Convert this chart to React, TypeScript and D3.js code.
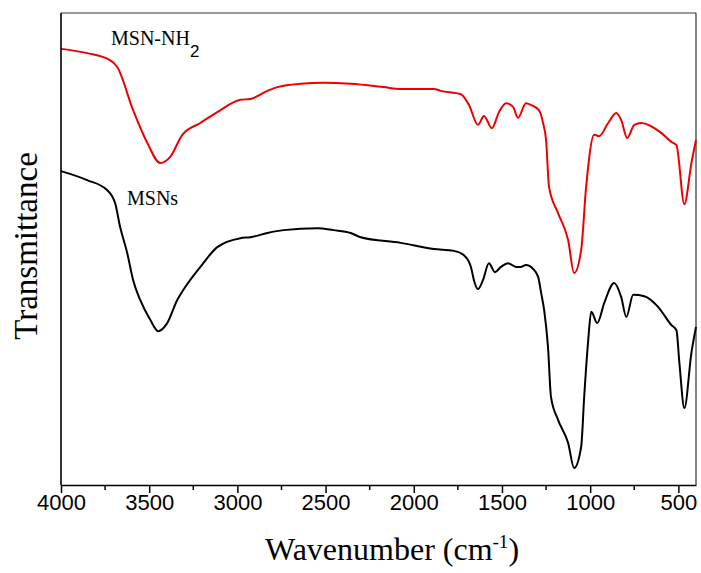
import React, { useEffect, useRef } from "react";
import * as d3 from "d3";

// Wavenumber (cm^-1) and transmittance (arbitrary units)
const nh2Wavenumber = [4000, 3852, 3722, 3682, 3591, 3511, 3437, 3381, 3312, 3210, 3114, 2983, 2926, 2830, 2773, 2642, 2511, 2358, 2170, 2074, 1886, 1847, 1733, 1687, 1636, 1602, 1557, 1517, 1477, 1437, 1409, 1364, 1324, 1290, 1267, 1250, 1233, 1182, 1125, 1091, 1051, 1023, 977, 949, 898, 852, 824, 790, 750, 710, 597, 540, 511, 466, 426, 400];
const nh2Transmittance = [92.4, 91.5, 90.0, 88.6, 79.4, 72.5, 68.2, 69.5, 74.2, 76.7, 79.0, 81.6, 81.8, 83.5, 84.3, 85.0, 85.2, 85.0, 84.3, 83.9, 83.9, 83.5, 82.8, 80.5, 76.3, 78.2, 75.6, 79.0, 80.9, 80.1, 77.8, 80.9, 80.3, 79.4, 76.7, 73.1, 63.1, 57.6, 51.9, 44.9, 49.8, 63.1, 74.2, 73.9, 76.7, 78.8, 77.3, 73.5, 76.3, 76.7, 74.6, 72.7, 72.0, 59.5, 68.2, 73.1];

const msnWavenumber = [4000, 3852, 3739, 3693, 3665, 3625, 3591, 3551, 3494, 3449, 3398, 3341, 3307, 3210, 3114, 2983, 2926, 2830, 2739, 2545, 2455, 2358, 2301, 2074, 1886, 1773, 1716, 1676, 1659, 1636, 1608, 1574, 1540, 1506, 1466, 1420, 1392, 1364, 1324, 1295, 1278, 1261, 1239, 1222, 1182, 1125, 1091, 1051, 1034, 1011, 994, 960, 920, 864, 824, 795, 756, 693, 614, 540, 511, 494, 466, 426, 400];
const msnTransmittance = [66.5, 64.6, 62.5, 59.7, 54.7, 49.2, 43.4, 39.2, 35.0, 32.6, 34.3, 39.2, 41.3, 46.2, 50.4, 52.3, 52.5, 53.4, 54.0, 54.4, 54.0, 53.4, 52.5, 51.3, 50.0, 49.6, 48.7, 46.2, 43.4, 41.5, 43.4, 47.0, 45.1, 46.2, 47.0, 46.2, 46.2, 46.6, 45.8, 44.1, 40.7, 37.1, 29.2, 18.6, 13.8, 8.9, 3.6, 8.1, 18.6, 30.7, 36.7, 34.3, 38.6, 42.8, 39.8, 35.6, 40.3, 40.0, 37.7, 33.9, 32.8, 25.8, 16.3, 28.0, 33.5];

const xTicks = [4000, 3500, 3000, 2500, 2000, 1500, 1000, 500];
const xMinorTicks = [3750, 3250, 2750, 2250, 1750, 1250, 750];

const seriesNames = ["MSN-NH", "MSNs"];
const seriesColors = ["#ee0000", "#000000"];

const W = 701;
const H = 573;
const M = { left: 61, right: 5, top: 13, bottom: 88 };

export default function App() {
  const ref = useRef<SVGSVGElement | null>(null);

  useEffect(() => {
    const svg = d3.select(ref.current);
    svg.selectAll("*").remove();

    const x = d3.scaleLinear().domain([4000, 400]).range([M.left, W - M.right]);
    const y = d3.scaleLinear().domain([0, 100]).range([H - M.bottom, M.top]);

    const line = d3
      .line<[number, number]>()
      .x((d) => x(d[0]))
      .y((d) => y(d[1]))
      .curve(d3.curveMonotoneX);

    const nh2 = nh2Wavenumber.map((w, i) => [w, nh2Transmittance[i]] as [number, number]);
    const msn = msnWavenumber.map((w, i) => [w, msnTransmittance[i]] as [number, number]);

    // frame
    const x0 = x(4000), x1 = x(400), y0 = y(0), y1 = y(100);
    svg.append("line").attr("x1", x0).attr("x2", x1).attr("y1", y1).attr("y2", y1)
      .attr("stroke", "#333").attr("stroke-width", 1.2);
    svg.append("line").attr("x1", x1).attr("x2", x1).attr("y1", y1).attr("y2", y0)
      .attr("stroke", "#333").attr("stroke-width", 1.2);

    // curves
    svg.append("path").attr("d", line(nh2) as string).attr("fill", "none")
      .attr("stroke", seriesColors[0]).attr("stroke-width", 2).attr("stroke-linejoin", "round");
    svg.append("path").attr("d", line(msn) as string).attr("fill", "none")
      .attr("stroke", seriesColors[1]).attr("stroke-width", 2).attr("stroke-linejoin", "round");

    // left axis line
    svg.append("line").attr("x1", x0).attr("x2", x0).attr("y1", y1).attr("y2", y0)
      .attr("stroke", "#000").attr("stroke-width", 1.6);

    // bottom axis
    const axis = d3.axisBottom(x).tickValues(xTicks).tickSize(8).tickSizeOuter(0)
      .tickFormat((d) => String(d));
    const g = svg.append("g").attr("transform", `translate(0,${y0})`).call(axis);
    g.select(".domain").attr("stroke", "#000").attr("stroke-width", 1.6);
    g.selectAll(".tick line").attr("stroke", "#000").attr("stroke-width", 1.5);
    g.selectAll(".tick text")
      .attr("font-family", "Liberation Sans, Arial, sans-serif")
      .attr("font-size", 22)
      .attr("fill", "#000")
      .attr("y", 25)
      .attr("dy", 0);
    svg.append("g").selectAll("line").data(xMinorTicks).join("line")
      .attr("x1", (d) => x(d)).attr("x2", (d) => x(d))
      .attr("y1", y0).attr("y2", y0 + 5)
      .attr("stroke", "#000").attr("stroke-width", 1.5);

    // axis titles
    const xt = svg.append("text")
      .attr("x", 265).attr("y", 560)
      .attr("font-family", "Liberation Serif, Times New Roman, serif")
      .attr("font-size", 32).attr("fill", "#000");
    xt.append("tspan").text("Wavenumber (cm");
    xt.append("tspan").attr("font-size", 19).attr("dy", -12).text("-1");
    xt.append("tspan").attr("dy", 12).text(")");

    svg.append("text")
      .attr("transform", `translate(37,${(y0 + y1) / 2 - 3}) rotate(-90)`)
      .attr("text-anchor", "middle")
      .attr("font-family", "Liberation Serif, Times New Roman, serif")
      .attr("font-size", 33).attr("fill", "#000")
      .text("Transmittance");

    // series labels
    const l1 = svg.append("text").attr("x", 111).attr("y", 45)
      .attr("font-family", "Liberation Serif, Times New Roman, serif")
      .attr("font-size", 20).attr("fill", "#000");
    l1.append("tspan").text(seriesNames[0]);
    l1.append("tspan").attr("font-family", "Liberation Sans, Arial, sans-serif")
      .attr("font-size", 17).attr("dy", 12).text("2");

    svg.append("text").attr("x", 127).attr("y", 205)
      .attr("font-family", "Liberation Serif, Times New Roman, serif")
      .attr("font-size", 20).attr("fill", "#000")
      .text(seriesNames[1]);
  }, []);

  return (
    <svg
      ref={ref}
      width={W}
      height={H}
      style={{ position: "absolute", left: 0, top: 0, display: "block", background: "#fff" }}
    />
  );
}
